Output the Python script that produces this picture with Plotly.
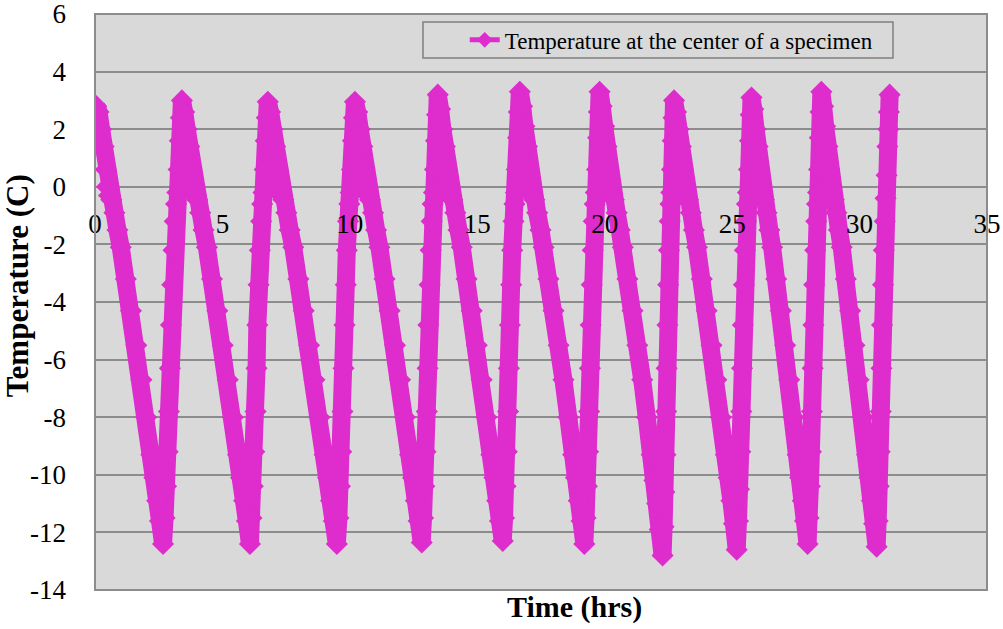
import plotly.graph_objects as go

# ---- data ----
TIME_HRS = [
    0.00,
    # cycle 0 falling
    0.05, 0.14, 0.24, 0.34, 0.42, 0.47, 0.55, 0.64, 0.76, 0.88, 1.01, 1.21, 1.41, 1.62, 1.82, 2.01, 2.21, 2.33, 2.44, 2.55, 2.67,
    # cycle 1
    2.73, 2.79, 2.85, 2.90, 2.94, 2.98, 3.03, 3.08, 3.13, 3.18, 3.23, 3.28, 3.33, 3.37,
    3.41, 3.50, 3.60, 3.70, 3.79, 3.84, 3.92, 4.01, 4.13, 4.26, 4.39, 4.59, 4.80, 5.01, 5.21, 5.41, 5.61, 5.73, 5.85, 5.96, 6.08,
    # cycle 2
    6.14, 6.19, 6.25, 6.30, 6.34, 6.37, 6.42, 6.47, 6.52, 6.56, 6.61, 6.66, 6.70, 6.74,
    6.78, 6.87, 6.97, 7.07, 7.17, 7.22, 7.30, 7.39, 7.51, 7.64, 7.78, 7.98, 8.19, 8.40, 8.61, 8.81, 9.01, 9.14, 9.26, 9.37, 9.49,
    # cycle 3
    9.55, 9.61, 9.66, 9.71, 9.75, 9.79, 9.84, 9.88, 9.93, 9.98, 10.03, 10.08, 10.12, 10.16,
    10.20, 10.29, 10.39, 10.49, 10.57, 10.62, 10.70, 10.79, 10.91, 11.03, 11.16, 11.36, 11.56, 11.77, 11.97, 12.16, 12.36, 12.48, 12.59, 12.70, 12.82,
    # cycle 4
    12.87, 12.92, 12.97, 13.02, 13.05, 13.08, 13.13, 13.17, 13.21, 13.25, 13.30, 13.34, 13.38, 13.42,
    13.45, 13.54, 13.63, 13.73, 13.81, 13.86, 13.94, 14.02, 14.14, 14.26, 14.39, 14.58, 14.78, 14.98, 15.17, 15.36, 15.55, 15.67, 15.78, 15.89, 16.00,
    # cycle 5
    16.05, 16.11, 16.16, 16.21, 16.24, 16.28, 16.33, 16.37, 16.42, 16.46, 16.51, 16.55, 16.60, 16.63,
    16.67, 16.76, 16.85, 16.95, 17.03, 17.08, 17.15, 17.24, 17.35, 17.48, 17.60, 17.79, 17.99, 18.19, 18.38, 18.57, 18.76, 18.87, 18.98, 19.09, 19.20,
    # cycle 6
    19.25, 19.30, 19.35, 19.39, 19.42, 19.45, 19.49, 19.53, 19.57, 19.61, 19.65, 19.70, 19.74, 19.77,
    19.80, 19.88, 19.98, 20.07, 20.15, 20.20, 20.27, 20.36, 20.47, 20.59, 20.71, 20.89, 21.09, 21.28, 21.47, 21.65, 21.84, 21.95, 22.06, 22.16, 22.27,
    # cycle 7
    22.31, 22.34, 22.38, 22.41, 22.43, 22.46, 22.49, 22.52, 22.55, 22.58, 22.61, 22.64, 22.67, 22.70,
    22.72, 22.80, 22.90, 22.99, 23.07, 23.12, 23.19, 23.27, 23.38, 23.50, 23.62, 23.81, 24.00, 24.19, 24.38, 24.56, 24.75, 24.86, 24.97, 25.07, 25.18,
    # cycle 8
    25.23, 25.27, 25.32, 25.36, 25.39, 25.42, 25.46, 25.50, 25.54, 25.58, 25.62, 25.66, 25.70, 25.73,
    25.76, 25.83, 25.92, 26.00, 26.07, 26.11, 26.18, 26.25, 26.35, 26.46, 26.57, 26.73, 26.91, 27.08, 27.24, 27.41, 27.57, 27.67, 27.77, 27.86, 27.96,
    # cycle 9
    28.00, 28.05, 28.09, 28.13, 28.16, 28.19, 28.22, 28.26, 28.30, 28.33, 28.37, 28.41, 28.44, 28.47,
    28.50, 28.57, 28.65, 28.74, 28.81, 28.85, 28.91, 28.99, 29.09, 29.19, 29.30, 29.46, 29.63, 29.80, 29.96, 30.13, 30.29, 30.39, 30.48, 30.57, 30.67,
    # cycle 10 (rise only)
    30.71, 30.75, 30.79, 30.83, 30.86, 30.88, 30.92, 30.95, 30.99, 31.02, 31.06, 31.09, 31.13, 31.15, 31.18,
]

TEMP_C = [
    2.6,
    # cycle 0 falling
    2.8, 2.6, 2.0, 1.4, 0.6, 0.0, -0.3, -0.45, -0.9, -1.5, -2.1, -3.2, -4.3, -5.5, -6.7, -8.0, -9.3, -10.1, -10.9, -11.6, -12.4,
    # cycle 1
    -11.5, -10.4, -9.2, -7.8, -6.3, -4.8, -3.4, -2.2, -1.2, -0.6, -0.2, 0.6, 1.6, 2.4,
    3.0, 2.6, 2.0, 1.4, 0.6, 0.0, -0.3, -0.45, -0.9, -1.5, -2.1, -3.2, -4.3, -5.5, -6.7, -8.0, -9.3, -10.1, -10.9, -11.6, -12.4,
    # cycle 2
    -11.5, -10.4, -9.2, -7.8, -6.3, -4.8, -3.4, -2.2, -1.2, -0.6, -0.2, 0.6, 1.6, 2.4,
    2.95, 2.6, 2.0, 1.4, 0.6, 0.0, -0.3, -0.45, -0.9, -1.5, -2.1, -3.2, -4.3, -5.5, -6.7, -8.0, -9.3, -10.1, -10.9, -11.6, -12.4,
    # cycle 3
    -11.5, -10.4, -9.2, -7.8, -6.3, -4.8, -3.4, -2.2, -1.2, -0.6, -0.2, 0.6, 1.6, 2.4,
    2.95, 2.6, 2.0, 1.4, 0.6, 0.0, -0.3, -0.45, -0.9, -1.5, -2.1, -3.2, -4.3, -5.5, -6.7, -8.0, -9.3, -10.1, -10.9, -11.6, -12.35,
    # cycle 4
    -11.5, -10.4, -9.2, -7.8, -6.3, -4.8, -3.4, -2.2, -1.2, -0.6, -0.2, 0.6, 1.6, 2.5,
    3.2, 2.7, 2.0, 1.4, 0.6, 0.0, -0.3, -0.45, -0.9, -1.5, -2.1, -3.2, -4.3, -5.5, -6.7, -8.0, -9.3, -10.1, -10.9, -11.6, -12.3,
    # cycle 5
    -11.5, -10.4, -9.2, -7.8, -6.3, -4.8, -3.4, -2.2, -1.2, -0.6, -0.2, 0.6, 1.7, 2.6,
    3.3, 2.8, 2.1, 1.4, 0.6, 0.0, -0.3, -0.45, -0.9, -1.5, -2.1, -3.2, -4.3, -5.5, -6.7, -8.0, -9.3, -10.1, -10.9, -11.6, -12.4,
    # cycle 6
    -11.5, -10.4, -9.2, -7.8, -6.3, -4.8, -3.4, -2.2, -1.2, -0.6, -0.2, 0.6, 1.7, 2.6,
    3.3, 2.8, 2.1, 1.4, 0.6, 0.0, -0.3, -0.45, -0.9, -1.5, -2.1, -3.2, -4.3, -5.5, -6.7, -8.0, -9.3, -10.2, -11.0, -11.9, -12.8,
    # cycle 7
    -11.8, -10.6, -9.3, -7.8, -6.3, -4.8, -3.4, -2.2, -1.2, -0.6, -0.2, 0.6, 1.6, 2.4,
    3.0, 2.6, 2.0, 1.4, 0.6, 0.0, -0.3, -0.45, -0.9, -1.5, -2.1, -3.2, -4.3, -5.5, -6.7, -8.0, -9.3, -10.1, -10.9, -11.7, -12.6,
    # cycle 8
    -11.6, -10.5, -9.2, -7.8, -6.3, -4.8, -3.4, -2.2, -1.2, -0.6, -0.2, 0.6, 1.6, 2.5,
    3.1, 2.7, 2.0, 1.4, 0.6, 0.0, -0.3, -0.45, -0.9, -1.5, -2.1, -3.2, -4.3, -5.5, -6.7, -8.0, -9.3, -10.1, -10.9, -11.6, -12.4,
    # cycle 9
    -11.5, -10.4, -9.2, -7.8, -6.3, -4.8, -3.4, -2.2, -1.2, -0.6, -0.2, 0.6, 1.7, 2.6,
    3.3, 2.8, 2.1, 1.4, 0.6, 0.0, -0.3, -0.45, -0.9, -1.5, -2.1, -3.2, -4.3, -5.5, -6.7, -8.0, -9.3, -10.1, -10.9, -11.7, -12.5,
    # cycle 10 (rise only)
    -11.6, -10.4, -9.2, -7.8, -6.3, -4.8, -3.4, -2.2, -1.2, -0.4, 0.4, 1.4, 2.0, 2.6, 3.2,
]

SERIES_NAME = "Temperature at the center of a specimen"
X_TICKS = [0, 5, 10, 15, 20, 25, 30, 35]
X_TICK_TEXT = ["0", "5", "10", "15", "20", "25", "30", "35"]
Y_TICKS = [-14, -12, -10, -8, -6, -4, -2, 0, 2, 4, 6]
Y_TICK_TEXT = ["-14", "-12", "-10", "-8", "-6", "-4", "-2", "0", "2", "4", "6"]

MAGENTA = "#DE2CCD"
FONT = "Liberation Serif, serif"

fig = go.Figure()
# thick band underneath (fills between the diamond markers)
fig.add_trace(go.Scatter(x=TIME_HRS, y=TEMP_C, mode="lines",
                         line=dict(color=MAGENTA, width=18),
                         showlegend=False, hoverinfo="skip"))
fig.add_trace(go.Scatter(x=TIME_HRS, y=TEMP_C, mode="lines+markers", name=SERIES_NAME,
                         line=dict(color=MAGENTA, width=4),
                         marker=dict(symbol="diamond", size=17, color=MAGENTA)))

fig.update_layout(
    width=1003, height=629,
    margin=dict(l=95, r=16, t=14, b=39, autoexpand=False),
    paper_bgcolor="white",
    plot_bgcolor="#D9D9D9",
    font=dict(family=FONT, color="black"),
    showlegend=True,
    legend=dict(x=0.4145, y=0.955, xanchor="left", yanchor="middle",
                bgcolor="rgba(0,0,0,0)", borderwidth=0,
                font=dict(family=FONT, size=23, color="black"),
                itemsizing="constant"),
    xaxis=dict(range=[0, 35], tickvals=X_TICKS, ticktext=X_TICK_TEXT,
               showgrid=False, zeroline=False, automargin=False,
               showline=False, ticks="", anchor="free", position=0.668,
               ticklabeloverflow="allow",
               tickfont=dict(family=FONT, size=27, color="black")),
    yaxis=dict(range=[-14, 6], tickvals=Y_TICKS, ticktext=Y_TICK_TEXT,
               showgrid=True, gridcolor="#8C8C8C", automargin=False,
               gridwidth=2, zeroline=False, showline=False, ticks="",
               ticklabelstandoff=28, ticklabeloverflow="allow",
               tickfont=dict(family=FONT, size=27, color="black")),
    shapes=[
        dict(type="rect", xref="paper", yref="paper", x0=0, y0=0, x1=1, y1=1,
             line=dict(color="#8C8C8C", width=2), layer="above"),
        dict(type="rect", xref="paper", yref="paper", x0=0.3677, x1=0.8946,
             y0=0.9236, y1=0.9861, line=dict(color="#7F7F7F", width=1.5), layer="above"),
    ],
    annotations=[
        dict(text="<b>Time (hrs)</b>", xref="paper", yref="paper", x=0.538, y=-0.0295,
             xanchor="center", yanchor="middle", showarrow=False,
             font=dict(family=FONT, size=30, color="black")),
        dict(text="<b>Temperature (C)</b>", xref="paper", yref="paper", x=-0.087, y=0.528,
             xanchor="center", yanchor="middle", showarrow=False, textangle=-90,
             font=dict(family=FONT, size=31, color="black")),
    ],
)

fig.write_html("out.html")
